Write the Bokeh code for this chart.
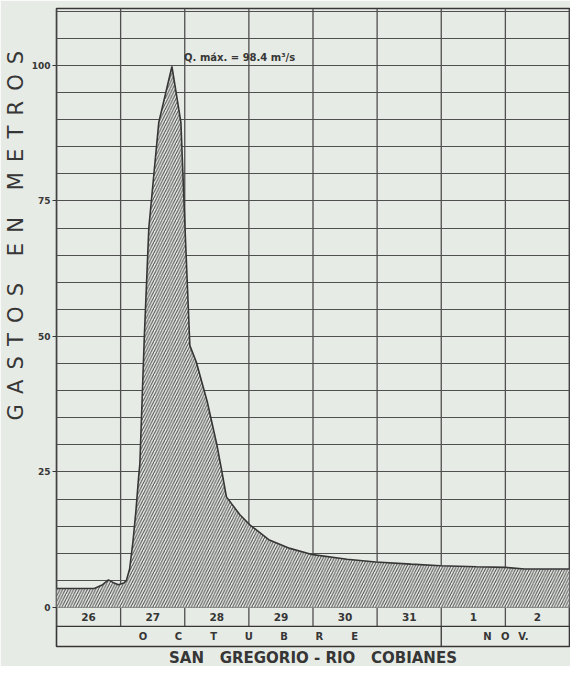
import math
from bokeh.plotting import figure
from bokeh.models import FixedTicker, Title
from bokeh.embed import file_html
from bokeh.resources import INLINE
from bokeh.core.properties import value

# Hydrograph: time in days counted from 00h of 26 October, discharge in m3/s
t_days = [0.0, 0.59, 0.72, 0.81, 0.90, 0.965, 1.05, 1.09, 1.14, 1.19, 1.24, 1.28,
          1.30, 1.37, 1.44, 1.595, 1.80, 1.94, 2.01, 2.08, 2.18, 2.35, 2.50, 2.58,
          2.65, 2.86, 3.01, 3.31, 3.64, 3.97, 4.53, 4.98, 5.53, 5.99, 6.55, 7.0,
          7.3, 8.0]
q_m3s = [3.5, 3.5, 4.2, 5.1, 4.5, 4.2, 4.5, 5.0, 7.1, 11.9, 18.0, 24.0,
         26.5, 50.1, 70.1, 89.5, 99.8, 89.5, 68.3, 48.3, 45.3, 38.0, 30.1, 25.0,
         20.4, 17.1, 15.3, 12.5, 10.9, 9.8, 8.9, 8.4, 8.0, 7.7, 7.5, 7.4,
         7.1, 7.1]

day_labels = ["26", "27", "28", "29", "30", "31", "1", "2"]
month_oct = ["O", "C", "T", "U", "B", "R", "E"]
month_nov = ["N", "O", "V."]
y_ticks = [0, 25, 50, 75, 100]
y_grid = list(range(0, 111, 5))
peak_label = "Q. máx. = 98.4 m³/s"
title_words = ["SAN", "GREGORIO - RIO", "COBIANES"]
ylabel_words = ["GASTOS", "EN", "METROS"]

PAPER = "#e7ebe5"
INK = "#363636"
GRID = "#4f4f4f"
FONT = "DejaVu Sans"
NB = "\u00a0"

def spaced(word, gap):
    return gap.join(list(word))

n_days = len(day_labels)
ROW1 = -3.5      # bottom of the day-number row
ROW2 = -7.2      # bottom of the month row
YTOP = 110.5

p = figure(width=570, height=666, x_range=(0, n_days), y_range=(ROW2, YTOP),
           x_axis_type=None, output_backend="svg", toolbar_location=None,
           min_border_left=56, min_border_right=1, min_border_top=8,
           min_border_bottom=20)
p.background_fill_color = PAPER
p.border_fill_color = PAPER
p.outline_line_color = INK
p.outline_line_width = 1.6

yax = p.yaxis[0]
yax.ticker = FixedTicker(ticks=y_ticks)
yax.axis_line_color = None
yax.major_tick_in = 0
yax.major_tick_out = 4
yax.major_tick_line_color = INK
yax.major_tick_line_width = 1.2
yax.minor_tick_line_color = None
yax.major_label_text_font = FONT
yax.major_label_text_font_size = "9px"
yax.major_label_text_font_style = "bold"
yax.major_label_text_color = INK
yax.major_label_standoff = 2

p.ygrid.ticker = FixedTicker(ticks=y_grid)
p.ygrid.grid_line_color = GRID
p.ygrid.grid_line_width = 1.2

# vertical day lines (through the chart and the day row)
bounds = list(range(n_days + 1))
p.segment(x0=bounds, y0=[ROW1] * len(bounds), x1=bounds, y1=[YTOP] * len(bounds),
          line_color=GRID, line_width=1.3)
p.segment(x0=[0], y0=[ROW1], x1=[n_days], y1=[ROW1], line_color=INK, line_width=1.3)
nov_start = day_labels.index("1")
p.segment(x0=[nov_start], y0=[ROW2], x1=[nov_start], y1=[ROW1], line_color=INK, line_width=1.3)

# hydrograph
p.varea(x=t_days, y1=[0] * len(t_days), y2=q_m3s, fill_color=PAPER,
        hatch_pattern="/", hatch_color="#4a4a4a", hatch_scale=5.5, hatch_weight=1.0)
p.line(t_days, q_m3s, line_color=INK, line_width=1.6)

# day numbers
p.text(x=[i + 0.5 for i in range(n_days)], y=[ROW1 / 2] * n_days, text=day_labels,
       text_align="center", text_baseline="middle", text_font=value(FONT),
       text_font_size="10.5px", text_font_style="bold", text_color=INK)

# month letters
ymid = (ROW1 + ROW2) / 2
oct_c, oct_step = nov_start / 2.0, 0.55
p.text(x=[oct_c + (i - (len(month_oct) - 1) / 2) * oct_step for i in range(len(month_oct))],
       y=[ymid] * len(month_oct), text=month_oct, text_align="center", text_baseline="middle",
       text_font=value(FONT), text_font_size="10px", text_font_style="bold", text_color=INK)
nov_c, nov_step = (nov_start + n_days) / 2.0, 0.28
p.text(x=[nov_c + (i - 1) * nov_step for i in range(len(month_nov))],
       y=[ymid] * len(month_nov), text=month_nov, text_align="center", text_baseline="middle",
       text_font=value(FONT), text_font_size="10px", text_font_style="bold", text_color=INK)

# peak annotation
ipk = q_m3s.index(max(q_m3s))
p.text(x=[t_days[ipk] + 0.19], y=[q_m3s[ipk] + 1.7], text=[peak_label],
       text_align="left", text_baseline="middle", text_font=value(FONT),
       text_font_size="10px", text_font_style="bold", text_color=INK)

# vertical axis title (letter-spaced lettering)
letter_gap = NB + "\u2006"
ylabel = (NB * 4).join(spaced(w, letter_gap) for w in ylabel_words)
p.add_layout(Title(text=ylabel, align="left", offset=226, standoff=2,
                   text_font=FONT, text_font_size="21px", text_font_style="normal",
                   text_color=INK), "left")

# bottom title
title_text = (NB * 3).join(w.replace(" ", NB) for w in title_words)
p.add_layout(Title(text=title_text, align="center", text_font=FONT,
                   text_font_size="15px", text_font_style="bold",
                   text_color=INK, standoff=0, offset=0), "below")

open("out.html", "w").write(file_html(p, INLINE))
